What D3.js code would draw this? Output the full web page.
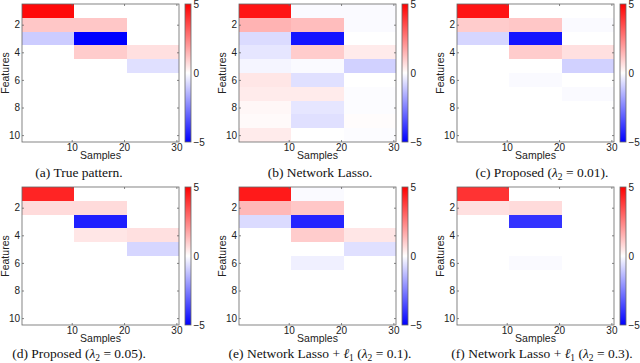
<!DOCTYPE html>
<html>
<head>
<meta charset="utf-8">
<script src="https://d3js.org/d3.v7.min.js"></script>
<style>
  body { margin: 0; background: white; }
  .axis text { font-family: "Liberation Sans", Arial, sans-serif; font-size: 10px; fill: #222; }
  .axis-label { font-family: "Liberation Sans", Arial, sans-serif; font-size: 10.5px; fill: #222; }
  .axis path, .axis line { stroke: #666; stroke-width: 0.8px; }
  .frame { fill: none; stroke: #666; stroke-width: 0.8px; }
  .caption { font-family: "Liberation Serif", "DejaVu Serif", serif; font-size: 13.5px; fill: #111; }
</style>
</head>
<body>
<svg id="chart" width="640" height="363"></svg>
<script>
// feature x block (samples 1-10, 11-20, 21-30)
const truePattern = [[4.8,0,0],[1.1,1.1,0],[-1,-5,0],[0,1,0.6],[0,0,-0.6],[0,0,0],[0,0,0],[0,0,0],[0,0,0],[0,0,0]];
const networkLasso = [[4.6,-0.1,-0.1],[1.5,1.3,-0.1],[-0.7,-4.6,0],[-0.5,1.0,0.4],[-0.2,-0.1,-0.9],[0.5,-0.6,0],[0.4,0.4,-0.05],[0.15,-0.5,-0.05],[0.1,-0.6,0.05],[0.4,0,-0.05]];
const proposed001 = [[4.6,0,0],[1.0,1.1,-0.1],[-0.8,-4.6,0],[0,1.0,0.6],[0,0,-0.9],[0,-0.1,0],[0,0,-0.1],[0,0,0],[0,0,0],[0,0,0]];
const proposed005 = [[4.3,0,0],[0.7,0.7,0],[0,-4.4,0],[0,0.5,0.6],[0,0,-0.8],[0,0,0],[0,0,0],[0,0,0],[0,0,0],[0,0,0]];
const lassoL1_01 = [[4.5,-0.1,0],[1.4,1.1,0],[-0.7,-4.3,0],[0,1.0,0.5],[0,0,-0.6],[0,-0.3,0],[0,0,0],[0,0,0],[0,0,0],[0,0,0]];
const lassoL1_03 = [[4.0,0,0],[0.6,0.7,0],[0,-4.0,0],[0,0,0],[0,0,0],[0,-0.1,0],[0,0,0],[0,0,0],[0,0,0],[0,0,0]];

const matrices = [truePattern, networkLasso, proposed001, proposed005, lassoL1_01, lassoL1_03];
const blockStarts = [1, 11, 21];
const xTicks = [10, 20, 30];
const yTicks = [2, 4, 6, 8, 10];
const cbarTicks = [-5, 0, 5];
// caption parts: [text, isSub, isItalic]
const captions = [
  [["(a) True pattern."]],
  [["(b) Network Lasso."]],
  [["(c) Proposed ("], ["λ", 0, 1], ["2", 1], ["\u2005=\u20050.01)."]],
  [["(d) Proposed ("], ["λ", 0, 1], ["2", 1], ["\u2005=\u20050.05)."]],
  [["(e) Network Lasso\u2005+\u2005"], ["ℓ", 0, 1], ["1", 1], [" ("], ["λ", 0, 1], ["2", 1], ["\u2005=\u20050.1)."]],
  [["(f) Network Lasso\u2005+\u2005"], ["ℓ", 0, 1], ["1", 1], [" ("], ["λ", 0, 1], ["2", 1], ["\u2005=\u20050.3)."]]
];

const svg = d3.select("#chart");
const colLeft = [22, 239, 457];
const captionCenter = [79, 320, 542];
const rowTop = [4, 187];
const captionY = [177, 358];
const pw = 157, ph = 138;

const color = d3.scaleLinear().domain([-5, 0, 5]).range(["#0000ff", "#ffffff", "#ff0000"]).clamp(true);

const grad = svg.append("defs").append("linearGradient")
  .attr("id", "cbar").attr("x1", 0).attr("x2", 0).attr("y1", 1).attr("y2", 0);
grad.append("stop").attr("offset", "0%").attr("stop-color", color(-5));
grad.append("stop").attr("offset", "50%").attr("stop-color", color(0));
grad.append("stop").attr("offset", "100%").attr("stop-color", color(5));

const x = d3.scaleLinear().domain([0.5, 30.5]).range([0, pw]);
const y = d3.scaleLinear().domain([0.5, 10.5]).range([0, ph]);
const cy = d3.scaleLinear().domain([-5, 5]).range([ph, 0]);

matrices.forEach((m, k) => {
  const row = Math.floor(k / 3);
  const g = svg.append("g").attr("transform", `translate(${colLeft[k % 3]},${rowTop[row]})`);

  const cells = [];
  m.forEach((r, i) => r.forEach((v, j) => cells.push({ f: i + 1, s: blockStarts[j], v })));

  g.selectAll("rect.cell").data(cells).join("rect")
    .attr("class", "cell")
    .attr("x", d => x(d.s - 0.5))
    .attr("y", d => y(d.f - 0.5))
    .attr("width", d => x(d.s + 9.5) - x(d.s - 0.5))
    .attr("height", d => y(d.f + 0.5) - y(d.f - 0.5))
    .attr("fill", d => color(d.v))
    .attr("shape-rendering", "crispEdges");

  g.append("rect").attr("class", "frame").attr("width", pw).attr("height", ph);

  g.append("g").attr("class", "axis")
    .call(d3.axisLeft(y).tickValues(yTicks).tickSize(-2).tickPadding(2))
    .call(a => a.select(".domain").remove());
  g.append("g").attr("class", "axis").attr("transform", `translate(${pw},0)`)
    .call(d3.axisRight(y).tickValues(yTicks).tickSize(-2).tickFormat(""))
    .call(a => a.select(".domain").remove());
  g.append("g").attr("class", "axis").attr("transform", `translate(0,${ph})`)
    .call(d3.axisBottom(x).tickValues(xTicks).tickSize(-2).tickPadding(2))
    .call(a => a.select(".domain").remove());
  g.append("g").attr("class", "axis")
    .call(d3.axisTop(x).tickValues(xTicks).tickSize(-2).tickFormat(""))
    .call(a => a.select(".domain").remove());

  g.append("text").attr("class", "axis-label")
    .attr("x", pw / 2).attr("y", ph + 17)
    .attr("text-anchor", "middle")
    .text("Samples");
  g.append("text").attr("class", "axis-label")
    .attr("transform", `translate(-13.5,${ph / 2}) rotate(-90)`)
    .attr("text-anchor", "middle")
    .text("Features");

  // colorbar
  const cb = g.append("g").attr("transform", `translate(${pw + 6},0)`);
  cb.append("rect").attr("width", 6).attr("height", ph).attr("fill", "url(#cbar)");
  cb.append("rect").attr("class", "frame").attr("width", 6).attr("height", ph);
  cb.append("g").attr("class", "axis").attr("transform", "translate(6,0)")
    .call(d3.axisRight(cy).tickValues(cbarTicks).tickSize(0).tickPadding(2.5)
      .tickFormat(d => d < 0 ? "\u2212" + Math.abs(d) : d))
    .call(a => a.select(".domain").remove());

  // caption
  const cap = svg.append("text").attr("class", "caption")
    .attr("x", captionCenter[k % 3]).attr("y", captionY[row])
    .attr("text-anchor", "middle");
  captions[k].forEach(p => {
    const t = cap.append("tspan").text(p[0]);
    if (p[2]) t.attr("font-style", "italic");
    if (p[1]) t.attr("baseline-shift", "-3").attr("font-size", "9.5px");
  });
});
</script>
</body>
</html>
